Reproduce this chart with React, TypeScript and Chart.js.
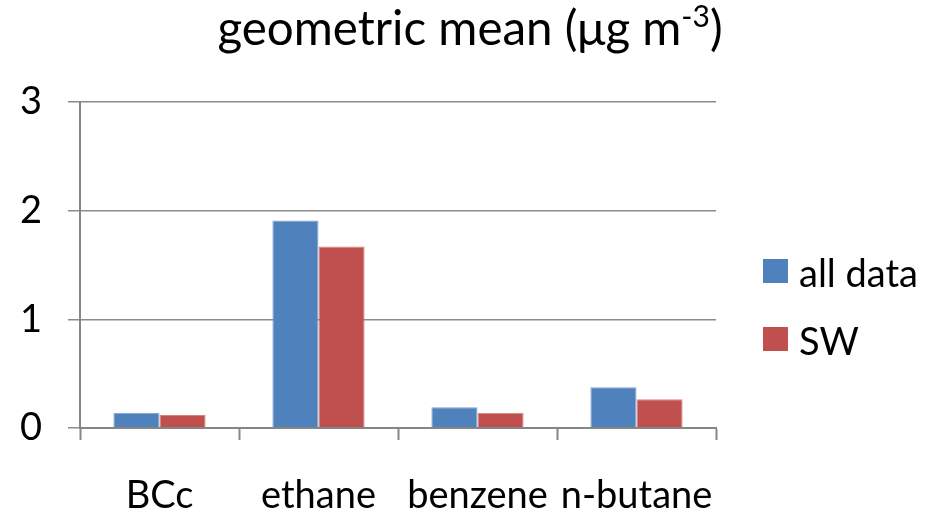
import React, { useEffect, useRef } from "react";
import { Chart, registerables } from "chart.js";

Chart.register(...registerables);

const categories = ["BCc", "ethane", "benzene", "n-butane"];
const seriesLabels = ["all data", "SW"];
const allData = [0.14, 1.91, 0.19, 0.375];
const swData = [0.12, 1.67, 0.14, 0.265];
const seriesColors = ["#4f81bd", "#c0504d"];
const seriesBorders = ["#7fa2d0", "#d78583"];
const yTicks = [0, 1, 2, 3];
const titleMain = "geometric mean (\u03bcg m";
const titleSup = "-3";
const titleEnd = ")";

const FONT = "Lato, 'Open Sans', sans-serif";

const legendPlugin = {
  id: "customLegend",
  afterDraw(chart: any) {
    const ctx = chart.ctx;
    ctx.save();
    chart.data.datasets.forEach((ds: any, i: number) => {
      const top = 259 + i * 68;
      ctx.fillStyle = ds.backgroundColor;
      ctx.fillRect(763, top, 25, 24);
      ctx.fillStyle = "#000";
      ctx.font = `38px ${FONT}`;
      ctx.textBaseline = "alphabetic";
      ctx.textAlign = "left";
      ctx.fillText(ds.label, 799, top + 28);
    });
    ctx.restore();
  },
};

const titlePlugin = {
  id: "customTitle",
  afterDraw(chart: any) {
    const ctx = chart.ctx;
    ctx.save();
    ctx.fillStyle = "#000";
    ctx.textBaseline = "alphabetic";
    ctx.textAlign = "left";
    const big = `47.5px ${FONT}`;
    const small = `30px ${FONT}`;
    ctx.font = big;
    const w1 = ctx.measureText(titleMain).width;
    const w3 = ctx.measureText(titleEnd).width;
    ctx.font = small;
    const w2 = ctx.measureText(titleSup).width;
    const total = w1 + w2 + w3;
    let x = 470 - total / 2;
    const base = 45;
    ctx.font = big;
    ctx.fillText(titleMain, x, base);
    x += w1;
    ctx.font = small;
    ctx.fillText(titleSup, x, base - 18);
    x += w2;
    ctx.font = big;
    ctx.fillText(titleEnd, x, base);
    ctx.restore();
  },
};

export default function App() {
  const ref = useRef<HTMLCanvasElement | null>(null);
  useEffect(() => {
    if (!ref.current) return;
    const chart = new Chart(ref.current, {
      type: "bar",
      data: {
        labels: categories,
        datasets: [
          {
            label: seriesLabels[0],
            data: allData,
            backgroundColor: seriesColors[0],
            borderColor: seriesBorders[0],
            borderWidth: 1,
          },
          {
            label: seriesLabels[1],
            data: swData,
            backgroundColor: seriesColors[1],
            borderColor: seriesBorders[1],
            borderWidth: 1,
          },
        ],
      },
      options: {
        responsive: false,
        animation: false,
        layout: { padding: { left: 0, right: 217, top: 102, bottom: 0 } },
        datasets: { bar: { categoryPercentage: 0.58, barPercentage: 1 } },
        plugins: {
          legend: { display: false },
          tooltip: { enabled: false },
          title: { display: false },
        },
        scales: {
          x: {
            offset: true,
            grid: {
              display: true,
              offset: true,
              drawOnChartArea: false,
              drawTicks: true,
              tickLength: 12,
              tickColor: "#868686",
              tickWidth: 2,
              color: "#868686",
            },
            border: { display: true, color: "#868686", width: 2 },
            ticks: {
              color: "#000",
              font: { family: FONT, size: 38 },
              padding: 33,
              maxRotation: 0,
              autoSkip: false,
            },
            afterFit(scale: any) {
              scale.height = 84;
            },
          },
          y: {
            min: 0,
            max: 3,
            afterBuildTicks(scale: any) {
              scale.ticks = yTicks.map((v) => ({ value: v }));
            },
            grid: {
              color: "#8c8c8c",
              lineWidth: 1.5,
              tickLength: 12,
              tickColor: "#8c8c8c",
              drawTicks: true,
            },
            border: { display: true, color: "#868686", width: 2 },
            ticks: {
              color: "#000",
              font: { family: FONT, size: 38 },
              padding: 26,
            },
            afterFit(scale: any) {
              scale.width = 80;
            },
          },
        },
      },
      plugins: [legendPlugin, titlePlugin],
    });
    return () => chart.destroy();
  }, []);
  return (
    <div style={{ position: "fixed", left: 0, top: 0, width: 933, height: 512, background: "#fff" }}>
      <canvas ref={ref} width={933} height={512} />
    </div>
  );
}
